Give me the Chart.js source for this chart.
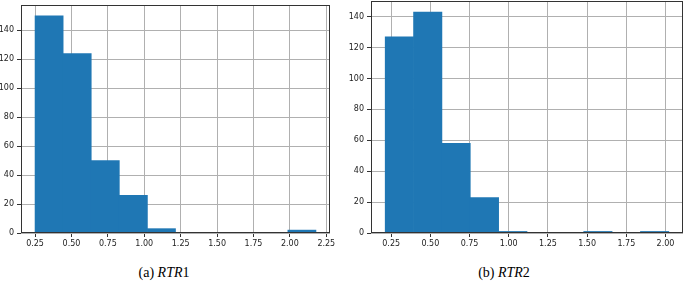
<!DOCTYPE html>
<html>
<head>
<meta charset="utf-8">
<script src="https://cdn.jsdelivr.net/npm/chart.js@4.4.1/dist/chart.umd.min.js"></script>
<style>
  html, body { margin: 0; padding: 0; background: #fff; }
  body { width: 685px; height: 284px; position: relative; overflow: hidden; }
  canvas { position: absolute; top: 0; }
  #histA { left: 0; }
  #histB { left: 343px; }
  .caption {
    position: absolute; top: 265px;
    font-family: 'Liberation Serif', 'DejaVu Serif', serif;
    font-size: 14px; color: #000;
    transform: translateX(-50%); white-space: nowrap;
  }
</style>
</head>
<body>
<canvas id="histA" width="342" height="256"></canvas>
<canvas id="histB" width="342" height="256"></canvas>
<div class="caption" style="left:164px">(a) <i>RTR</i>1</div>
<div class="caption" style="left:504px">(b) <i>RTR</i>2</div>

<script>
// ---- data ----
// bin centres (10 bins each) and counts
const rtr1Centers = [0.3465, 0.5394, 0.7323, 0.9252, 1.1181, 1.3110, 1.5039, 1.6968, 1.8897, 2.0826];
const rtr1Counts  = [150, 124, 50, 26, 3, 0, 0, 0, 0, 2];

const rtr2Centers = [0.3024, 0.4833, 0.6642, 0.8451, 1.0260, 1.2069, 1.3878, 1.5687, 1.7496, 1.9305];
const rtr2Counts  = [127, 143, 58, 23, 1, 0, 0, 1, 0, 1];

const xTicksA = [0.25, 0.5, 0.75, 1.0, 1.25, 1.5, 1.75, 2.0, 2.25];
const xTicksB = [0.25, 0.5, 0.75, 1.0, 1.25, 1.5, 1.75, 2.0];
const yTicks  = [0, 20, 40, 60, 80, 100, 120, 140];

const BAR_BLUE = '#1f77b4';
const GRID = '#b0b0b0';
const TICK_FONT = { family: 'DejaVu Sans', size: 8 };

// axes box on all four sides (matplotlib spines)
const framePlugin = {
  id: 'frame',
  afterDraw(chart) {
    const { ctx, chartArea: a } = chart;
    ctx.save();
    ctx.strokeStyle = '#333';
    ctx.lineWidth = 1;
    const l = Math.round(a.left) + 0.5, t = Math.round(a.top) + 0.5;
    const r = Math.round(a.right) - 0.5, b = Math.round(a.bottom) - 0.5;
    ctx.strokeRect(l, t, r - l, b - t);
    ctx.restore();
  }
};

function makeHist(id, centers, counts, cfg) {
  const points = centers.map((x, i) => ({ x: x, y: counts[i] }));
  return new Chart(document.getElementById(id), {
    type: 'bar',
    data: {
      datasets: [{
        data: points,
        backgroundColor: BAR_BLUE,
        borderWidth: 0,
        barPercentage: 1,
        categoryPercentage: 1,
      }]
    },
    options: {
      responsive: false,
      animation: false,
      layout: { padding: { top: cfg.padTop, right: cfg.padRight, left: 0, bottom: 0 } },
      plugins: { legend: { display: false }, tooltip: { enabled: false } },
      scales: {
        x: {
          type: 'linear',
          min: cfg.xMin,
          max: cfg.xMax,
          offset: false,
          z: 1,
          border: { display: false },
          grid: { color: GRID, lineWidth: 1, offset: false, drawTicks: true, tickLength: 4, tickColor: '#333' },
          ticks: {
            color: '#222', font: TICK_FONT, padding: 2,
            maxRotation: 0, autoSkip: false,
            callback: v => Number(v).toFixed(2)
          },
          afterBuildTicks: s => { s.ticks = cfg.xTicks.map(v => ({ value: v })); },
          afterFit: s => {
            s.height = cfg.xAxisHeight;
            s.paddingLeft = 0; s.paddingRight = 0;
          }
        },
        y: {
          min: 0,
          max: cfg.yMax,
          z: 1,
          border: { display: false },
          grid: { color: GRID, lineWidth: 1, drawTicks: true, tickLength: 4, tickColor: '#333' },
          ticks: { color: '#222', font: TICK_FONT, padding: 3 },
          afterBuildTicks: s => { s.ticks = yTicks.map(v => ({ value: v })); },
          afterFit: s => {
            s.width = cfg.yAxisWidth;
            s.paddingTop = 0; s.paddingBottom = 0;
          }
        }
      }
    },
    plugins: [framePlugin]
  });
}

makeHist('histA', rtr1Centers, rtr1Counts, {
  xMin: 0.1535, xMax: 2.2755, yMax: 157.5, xTicks: xTicksA,
  padTop: 5, padRight: 12, yAxisWidth: 21, xAxisHeight: 23
});

makeHist('histB', rtr2Centers, rtr2Counts, {
  xMin: 0.1214, xMax: 2.1115, yMax: 150.15, xTicks: xTicksB,
  padTop: 1, padRight: 2, yAxisWidth: 28, xAxisHeight: 23
});
</script>
</body>
</html>
